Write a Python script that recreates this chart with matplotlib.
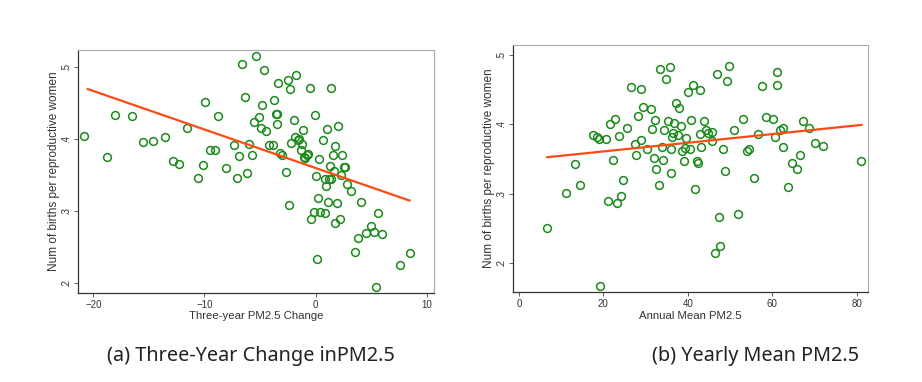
import matplotlib.pyplot as plt

plt.rcParams['font.family'] = ['Liberation Sans', 'DejaVu Sans']

# (a) three-year change in PM2.5 vs births
change_x = [-20.8, -18.8, -18.06, -16.56, -15.5, -14.6, -13.56, -12.84, -12.27, -11.55,
            -10.62, -10.14, -9.93, -9.54, -9.06, -8.76, -8.04, -7.38, -7.05, -6.93,
            -6.63, -6.33, -6.18, -6.0, -5.73, -5.58, -5.37, -5.13, -4.95, -4.8,
            -4.62, -4.5, -4.2, -3.87, -3.72, -3.6, -3.51, -3.48, -3.36, -3.21,
            -3.06, -2.70, -2.52, -2.43, -2.34, -2.22, -1.92, -1.83, -1.74, -1.62,
            -1.47, -1.35, -1.2, -1.11, -1.05, -0.93, -0.78, -0.66, -0.54, -0.39,
            -0.18, -0.09, 0.0, 0.09, 0.18, 0.30, 0.42, 0.66, 0.81, 0.87,
            0.96, 1.02, 1.11, 1.2, 1.26, 1.35, 1.38, 1.56, 1.62, 1.71,
            1.77, 1.92, 2.01, 2.19, 2.31, 2.40, 2.52, 2.67, 2.82, 3.21,
            3.51, 3.81, 4.08, 4.5, 4.98, 5.22, 5.4, 5.58, 5.97, 7.62, 8.52]
change_y = [0.4046, 0.375, 0.433, 0.431, 0.396, 0.397, 0.402, 0.369, 0.365, 0.415,
            0.346, 0.364, 0.451, 0.385, 0.384, 0.432, 0.359, 0.391, 0.346, 0.376,
            0.503, 0.458, 0.353, 0.393, 0.378, 0.424, 0.515, 0.430, 0.415, 0.447,
            0.495, 0.4115, 0.392, 0.392, 0.454, 0.435, 0.435, 0.420, 0.477, 0.380,
            0.378, 0.354, 0.481, 0.309, 0.469, 0.394, 0.426, 0.403, 0.489, 0.3986,
            0.400, 0.384, 0.393, 0.412, 0.375, 0.373, 0.377, 0.379, 0.470, 0.289,
            0.299, 0.433, 0.348, 0.234, 0.318, 0.372, 0.299, 0.398, 0.345, 0.298,
            0.335, 0.414, 0.313, 0.344, 0.363, 0.345, 0.470, 0.378, 0.355, 0.283,
            0.390, 0.311, 0.418, 0.289, 0.350, 0.378, 0.361, 0.361, 0.337, 0.328,
            0.243, 0.263, 0.313, 0.270, 0.279, 0.271, 0.195, 0.298, 0.268, 0.225, 0.242]
fit_a_x = [-20.5, 8.46]
fit_a_y = [0.469, 0.3146]

# (b) annual mean PM2.5 vs births
mean_x = [6.7, 11.1, 13.3, 14.4, 17.6, 18.4, 18.9, 19.3, 20.5, 21.1,
          21.5, 22.3, 22.8, 23.2, 23.7, 24.1, 24.6, 25.6, 26.6, 27.4,
          27.7, 28.2, 28.8, 29.0, 29.4, 30.3, 31.2, 31.6, 31.9, 32.3,
          32.5, 33.2, 33.5, 33.8, 34.2, 34.4, 34.8, 35.3, 35.8, 35.9,
          36.1, 36.3, 36.5, 36.8, 37.2, 37.7, 38.0, 38.3, 38.6, 39.1,
          39.4, 39.5, 40.0, 40.5, 40.7, 41.3, 41.6, 42.1, 42.4, 42.8,
          42.9, 43.2, 43.9, 44.3, 44.8, 45.6, 45.8, 46.5, 46.9, 47.3,
          47.7, 48.3, 48.8, 49.2, 49.8, 50.9, 51.8, 53.0, 53.9, 54.4,
          55.6, 56.5, 57.6, 58.5, 60.1, 60.7, 61.1, 61.2, 61.9, 62.4,
          62.6, 63.6, 64.6, 65.9, 66.5, 67.3, 68.6, 70.1, 72.1, 81.1]
mean_y = [0.250, 0.301, 0.342, 0.313, 0.385, 0.381, 0.378, 0.167, 0.378, 0.289,
          0.401, 0.349, 0.407, 0.286, 0.383, 0.296, 0.319, 0.395, 0.454, 0.371,
          0.356, 0.412, 0.377, 0.451, 0.425, 0.364, 0.422, 0.393, 0.351, 0.406,
          0.335, 0.312, 0.480, 0.367, 0.349, 0.391, 0.465, 0.404, 0.482, 0.330,
          0.364, 0.382, 0.388, 0.402, 0.430, 0.385, 0.423, 0.397, 0.362, 0.347,
          0.366, 0.380, 0.447, 0.365, 0.406, 0.457, 0.306, 0.347, 0.344, 0.449,
          0.386, 0.367, 0.404, 0.392, 0.387, 0.389, 0.376, 0.214, 0.472, 0.267,
          0.225, 0.364, 0.333, 0.462, 0.484, 0.392, 0.270, 0.408, 0.361, 0.365,
          0.323, 0.386, 0.455, 0.410, 0.408, 0.381, 0.475, 0.456, 0.392, 0.395,
          0.367, 0.309, 0.344, 0.336, 0.356, 0.404, 0.394, 0.373, 0.369, 0.347]
fit_b_x = [6.7, 81.1]
fit_b_y = [0.3525, 0.399]

yticks = [0.2, 0.3, 0.4, 0.5]
ytick_labels = ['.2', '.3', '.4', '.5']

fig = plt.figure(figsize=(9.22, 3.82), dpi=100)
ax1 = fig.add_axes([0.0843, 0.233, 0.3864, 0.636])
ax2 = fig.add_axes([0.556, 0.235, 0.3857, 0.647])

panels = [
    (ax1, change_x, change_y, fit_a_x, fit_a_y, 'Three-year PM2.5 Change',
     [-20, -10, 0, 10], (-21.4, 10.66), (0.1866, 0.523)),
    (ax2, mean_x, mean_y, fit_b_x, fit_b_y, 'Annual Mean PM2.5',
     [0, 20, 40, 60, 80], (-1.5, 82.7), (0.158, 0.514)),
]

for ax, xs, ys, fx, fy, xlabel, xticks, xlim, ylim in panels:
    ax.plot(xs, ys, 'o', markerfacecolor='none', markeredgecolor='#1a8a1a',
            markersize=5.6, markeredgewidth=1.1, linestyle='none')
    ax.plot(fx, fy, color='#ff4a14', linewidth=1.6)
    ax.set_xlim(*xlim)
    ax.set_ylim(*ylim)
    ax.set_xticks(xticks)
    ax.set_yticks(yticks)
    ax.set_yticklabels(ytick_labels, rotation=90, va='center')
    ax.tick_params(labelsize=7, length=3, width=0.6, color='#444444',
                   labelcolor='#333333', pad=2)
    ax.set_xlabel(xlabel, fontsize=8.2, color='#333333', labelpad=1)
    ax.set_ylabel('Num of births per reproductive women', fontsize=8.5,
                  color='#333333', labelpad=0.5)
    for side in ['left', 'bottom']:
        ax.spines[side].set_color('#333333')
        ax.spines[side].set_linewidth(0.9)
    for side in ['top', 'right']:
        ax.spines[side].set_color('#aaaaaa')
        ax.spines[side].set_linewidth(0.8)

fig.text(0.272, 0.068, '(a) Three-Year Change inPM2.5', ha='center', va='center',
         fontsize=14.3, family=['Noto Sans', 'DejaVu Sans'], color='#222222')
fig.text(0.819, 0.068, '(b) Yearly Mean PM2.5', ha='center', va='center',
         fontsize=14.3, family=['Noto Sans', 'DejaVu Sans'], color='#222222')

fig.savefig('out.png', dpi=100)
